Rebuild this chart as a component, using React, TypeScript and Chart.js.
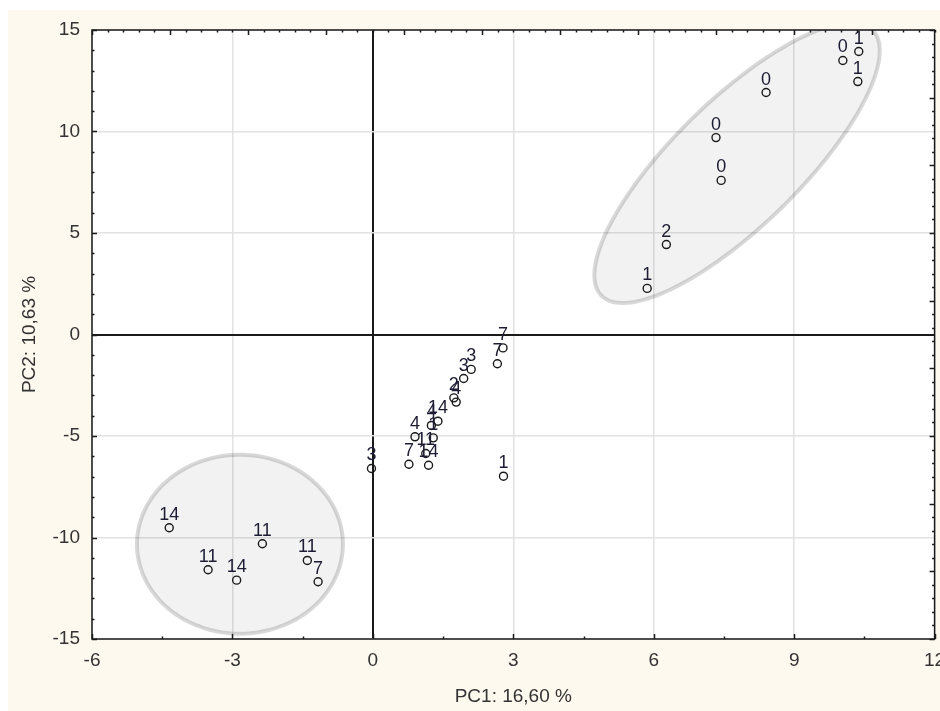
import React, { useEffect, useRef } from "react";
import { Chart, registerables } from "chart.js";

Chart.register(...registerables);

// ---- data ----
const sampleLabels = [
  "0", "1", "1", "0", "0", "0", "2", "1",
  "14", "11", "14", "11", "11", "7",
  "3", "7", "4", "11", "14", "1", "4", "14", "2", "4", "3", "3", "7", "7", "1",
];
const pc1Scores = [
  10.04, 10.38, 10.36, 8.40, 7.33, 7.44, 6.27, 5.86,
  -4.35, -3.52, -2.91, -2.36, -1.40, -1.17,
  -0.03, 0.77, 0.90, 1.13, 1.19, 1.29, 1.25, 1.39, 1.73, 1.78, 1.94, 2.10, 2.66, 2.78, 2.79,
];
const pc2Scores = [
  13.50, 13.94, 12.46, 11.92, 9.70, 7.59, 4.43, 2.27,
  -9.52, -11.59, -12.10, -10.31, -11.13, -12.18,
  -6.60, -6.39, -5.04, -5.86, -6.44, -5.09, -4.48, -4.27, -3.12, -3.33, -2.17, -1.72, -1.44, -0.66, -6.98,
];

// axis settings
const xMin = -6;
const xMax = 12;
const xStep = 3;
const yMin = -15;
const yMax = 15;
const yStep = 5;
const xTitle = "PC1: 16,60 %";
const yTitle = "PC2: 10,63 %";

// group ellipses in data units: centre and two semi-axis vectors
const ellipseCenterX = [7.78, -2.84];
const ellipseCenterY = [8.45, -10.33];
const ellipseAxisAX = [2.9, 2.2];
const ellipseAxisAY = [6.53, 0];
const ellipseAxisBX = [0.94, 0];
const ellipseAxisBY = [-2.23, 4.41];

const FONT = "'Liberation Sans', Arial, Helvetica, sans-serif";

const backgroundPlugin = {
  id: "bgPlugin",
  beforeDraw(chart: any) {
    const { ctx, chartArea: a } = chart;
    ctx.save();
    ctx.fillStyle = "#fdf9ee";
    ctx.fillRect(0, 0, chart.width, chart.height);
    ctx.fillStyle = "#ffffff";
    ctx.fillRect(a.left, a.top, a.right - a.left, a.bottom - a.top);
    ctx.restore();
  },
};

const ellipsePlugin = {
  id: "ellipsePlugin",
  beforeDatasetsDraw(chart: any) {
    const { ctx, scales } = chart;
    const xs = scales.x;
    const ys = scales.y;
    ctx.save();
    ctx.beginPath();
    ctx.rect(chart.chartArea.left, chart.chartArea.top, chart.chartArea.right - chart.chartArea.left, chart.chartArea.bottom - chart.chartArea.top);
    ctx.clip();
    for (let e = 0; e < ellipseCenterX.length; e++) {
      ctx.beginPath();
      const n = 180;
      for (let i = 0; i <= n; i++) {
        const t = (i / n) * Math.PI * 2;
        const dx = ellipseCenterX[e] + ellipseAxisAX[e] * Math.cos(t) + ellipseAxisBX[e] * Math.sin(t);
        const dy = ellipseCenterY[e] + ellipseAxisAY[e] * Math.cos(t) + ellipseAxisBY[e] * Math.sin(t);
        const px = xs.getPixelForValue(dx);
        const py = ys.getPixelForValue(dy);
        if (i === 0) ctx.moveTo(px, py);
        else ctx.lineTo(px, py);
      }
      ctx.closePath();
      ctx.fillStyle = "rgba(0,0,0,0.05)";
      ctx.fill();
      ctx.lineWidth = 4;
      ctx.strokeStyle = "rgba(0,0,0,0.15)";
      ctx.stroke();
    }
    ctx.restore();
  },
};

const labelPlugin = {
  id: "labelPlugin",
  afterDatasetsDraw(chart: any) {
    const { ctx } = chart;
    const meta = chart.getDatasetMeta(0);
    ctx.save();
    ctx.font = `18px ${FONT}`;
    ctx.fillStyle = "#1c1c34";
    ctx.textAlign = "center";
    ctx.textBaseline = "alphabetic";
    meta.data.forEach((el: any, i: number) => {
      ctx.fillText(sampleLabels[i], el.x, el.y - 8);
    });
    ctx.restore();
  },
};

const framePlugin = {
  id: "framePlugin",
  afterDraw(chart: any) {
    const { ctx, chartArea: a, scales } = chart;
    const xs = scales.x;
    const ys = scales.y;
    ctx.save();
    ctx.strokeStyle = "#1a1a1a";
    ctx.lineWidth = 1.5;
    ctx.strokeRect(a.left, a.top, a.right - a.left, a.bottom - a.top);
    ctx.lineWidth = 1.5;
    ctx.beginPath();
    // left ticks every 1 unit
    for (let v = yMin; v <= yMax; v += 1) {
      const y = Math.round(ys.getPixelForValue(v)) + 0.5;
      const len = v % yStep === 0 ? 5 : 2.5;
      ctx.moveTo(a.left, y);
      ctx.lineTo(a.left + len, y);
    }
    // bottom ticks every half step
    for (let k = 0; k <= ((xMax - xMin) / xStep) * 2; k++) {
      const v = xMin + (k * xStep) / 2;
      const x = Math.round(xs.getPixelForValue(v)) + 0.5;
      const len = k % 2 === 0 ? 5 : 2.5;
      ctx.moveTo(x, a.bottom);
      ctx.lineTo(x, a.bottom - len);
    }
    // top ticks every 1/3 unit
    for (let k = 0; k <= (xMax - xMin) * 3; k++) {
      const v = xMin + k / 3;
      const x = Math.round(xs.getPixelForValue(v)) + 0.5;
      const len = k % 5 === 0 ? 5 : 2.5;
      ctx.moveTo(x, a.top);
      ctx.lineTo(x, a.top + len);
    }
    // right ticks every 2/3 unit
    for (let k = 0; k <= ((yMax - yMin) * 3) / 2; k++) {
      const v = yMax - (k * 2) / 3;
      const y = Math.round(ys.getPixelForValue(v)) + 0.5;
      const len = k % 5 === 0 ? 5 : 2.5;
      ctx.moveTo(a.right, y);
      ctx.lineTo(a.right - len, y);
    }
    ctx.stroke();
    ctx.restore();
  },
};

export default function App() {
  const canvasRef = useRef<HTMLCanvasElement | null>(null);

  useEffect(() => {
    if (!canvasRef.current) return;
    const points = pc1Scores.map((x, i) => ({ x, y: pc2Scores[i] }));
    const gridColor = (c: any) => (c.tick && c.tick.value === 0 ? "#1a1a1a" : "#e2e2e2");
    const gridWidth = (c: any) => (c.tick && c.tick.value === 0 ? 2 : 1.5);
    const chart = new Chart(canvasRef.current, {
      type: "scatter",
      data: {
        datasets: [
          {
            data: points,
            pointRadius: 4,
            pointHoverRadius: 4,
            pointBorderWidth: 1.4,
            pointBorderColor: "#1a1a1a",
            pointBackgroundColor: "rgba(255,255,255,0)",
          },
        ],
      },
      options: {
        animation: false,
        responsive: false,
        devicePixelRatio: 1,
        layout: { padding: { top: 20, right: 5, left: 0, bottom: 0 } },
        plugins: {
          legend: { display: false },
          tooltip: { enabled: false },
        },
        scales: {
          x: {
            type: "linear",
            min: xMin,
            max: xMax,
            ticks: {
              stepSize: xStep,
              padding: 10,
              color: "#333",
              font: { family: FONT, size: 19 },
              maxRotation: 0,
            },
            grid: { color: gridColor, lineWidth: gridWidth, drawTicks: false },
            border: { display: false },
            title: {
              display: true,
              text: xTitle,
              color: "#333",
              font: { family: FONT, size: 19 },
              padding: { top: 0, bottom: 3 },
            },
            afterFit: (s: any) => {
              s.height = 72;
              s.paddingLeft = 0;
              s.paddingRight = 0;
            },
          },
          y: {
            type: "linear",
            min: yMin,
            max: yMax,
            ticks: {
              stepSize: yStep,
              padding: 12,
              color: "#333",
              font: { family: FONT, size: 19 },
            },
            grid: { color: gridColor, lineWidth: gridWidth, drawTicks: false },
            border: { display: false },
            title: {
              display: true,
              text: yTitle,
              color: "#333",
              font: { family: FONT, size: 19 },
              padding: { top: 10, bottom: 0 },
            },
            afterFit: (s: any) => {
              s.width = 84;
              s.paddingTop = 0;
              s.paddingBottom = 0;
            },
          },
        },
      },
      plugins: [backgroundPlugin, ellipsePlugin, labelPlugin, framePlugin],
    } as any);
    return () => chart.destroy();
  }, []);

  return (
    <div style={{ position: "absolute", left: 8, top: 10, width: 932, height: 701 }}>
      <canvas ref={canvasRef} width={932} height={701} style={{ display: "block", width: 932, height: 701 }} />
    </div>
  );
}
